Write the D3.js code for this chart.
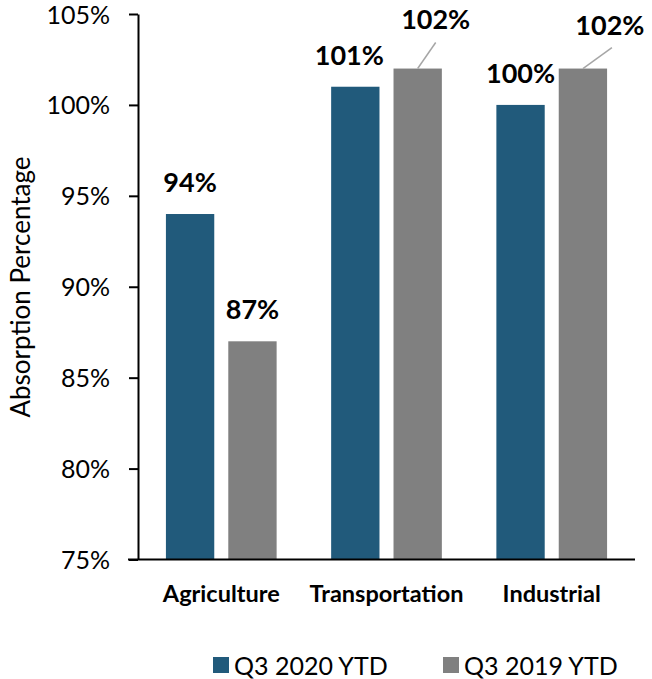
<!DOCTYPE html>
<html><head><meta charset="utf-8">
<script src="https://cdn.jsdelivr.net/npm/d3@7"></script>
<style>body{margin:0;background:#fff;} svg{display:block;font-family:Lato,"Open Sans",sans-serif;}</style>
</head><body>
<svg id="c" width="652" height="679"></svg>
<script>
const categories = ["Agriculture", "Transportation", "Industrial"];
const seriesNames = ["Q3 2020 YTD", "Q3 2019 YTD"];
const q3_2020 = [94, 101, 100];
const q3_2019 = [87, 102, 102];
const yTicks = [75, 80, 85, 90, 95, 100, 105];
const colors = ["#215a7b", "#808080"];

(function () {
const svg = d3.select("#c");
const mL = 138, mR = 635, mT = 14, mB = 559.5;
const x = d3.scaleBand().domain(categories).range([mL, mR]).paddingInner(0.33).paddingOuter(0.169);
const xs = d3.scaleBand().domain(seriesNames).range([0, x.bandwidth()]).paddingInner(0.225);
const y = d3.scaleLinear().domain([75, 105]).range([mB, mT]);

const data = categories.map((c, i) => ({cat: c, vals: [q3_2020[i], q3_2019[i]]}));

const g = svg.append("g");
data.forEach(d => {
  d.vals.forEach((v, j) => {
    g.append("rect")
      .attr("x", x(d.cat) + xs(seriesNames[j]))
      .attr("y", y(v))
      .attr("width", xs.bandwidth())
      .attr("height", y(75) - y(v))
      .attr("fill", colors[j]);
  });
});

const ya = svg.append("g").attr("transform", `translate(${mL},0)`)
  .call(d3.axisLeft(y).tickValues(yTicks).tickFormat(d => d + "%").tickSize(9).tickSizeOuter(0));
ya.select(".domain").attr("stroke", "#000").attr("stroke-width", 2);
ya.selectAll(".tick line").attr("stroke", "#000").attr("stroke-width", 2);
ya.selectAll(".tick text").attr("font-size", 25).attr("fill", "#000").attr("x", -28).attr("dy", "0.36em").attr("font-family", "Lato");

const xa = svg.append("g").attr("transform", `translate(0,${mB})`)
  .call(d3.axisBottom(x).tickSize(0).tickPadding(0));
xa.select(".domain").attr("d", `M${mL - 10},0H${mR}`).attr("stroke", "#000").attr("stroke-width", 2);
xa.selectAll(".tick text").attr("font-size", 23.5).attr("font-weight", "bold").attr("fill", "#000")
  .attr("font-family", "Lato").attr("y", 42.5).attr("dy", 0);

svg.append("text").attr("transform", `translate(30,${287}) rotate(-90)`)
  .attr("text-anchor", "middle").attr("font-size", 26).attr("fill", "#000").text("Absorption Percentage");

// [dx, dy, lineEndDx, lineEndDy] label displacement relative to default position above bar
const labelOffsets = {
  "Agriculture": [[0, 0], [0, 0]],
  "Transportation": [[-6, 0], [18, -18, 18, 14]],
  "Industrial": [[0, 0], [27, -12, 29, 13]]
};
data.forEach(d => {
  d.vals.forEach((v, j) => {
    const cx = x(d.cat) + xs(seriesNames[j]) + xs.bandwidth() / 2;
    const off = labelOffsets[d.cat][j];
    const ty = y(v) - 22 + off[1];
    if (off.length > 2) {
      svg.append("line").attr("x1", cx).attr("y1", y(v)).attr("x2", cx + off[2]).attr("y2", ty + off[3])
        .attr("stroke", "#a6a6a6").attr("stroke-width", 1.5);
    }
    svg.append("text").attr("x", cx + off[0]).attr("y", ty)
      .attr("text-anchor", "middle").attr("font-size", 27).attr("font-weight", "bold").attr("fill", "#000")
      .text(v + "%");
  });
});

const legX = [213, 443];
seriesNames.forEach((s, j) => {
  svg.append("rect").attr("x", legX[j]).attr("y", 657).attr("width", 16).attr("height", 16).attr("fill", colors[j]);
  svg.append("text").attr("x", legX[j] + 21).attr("y", 675).attr("font-size", 25).attr("fill", "#000").text(s);
});
})();
</script>
</body></html>
